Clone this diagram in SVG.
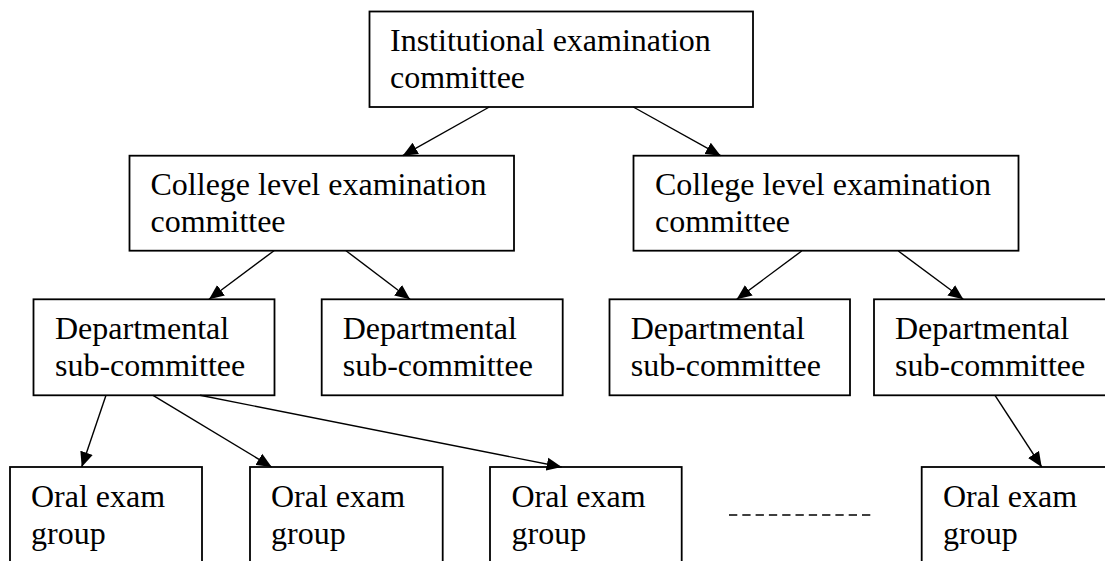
<svg xmlns="http://www.w3.org/2000/svg" width="1105" height="561" viewBox="0 0 1105 561">
<style>
.box{fill:#fff;stroke:#000;stroke-width:1.8}
.t{font-family:"Liberation Serif","Times New Roman",serif;font-size:32px;fill:#000}
.c{stroke:#000;stroke-width:1.4;fill:none;marker-end:url(#ah)}
</style>
<defs>
<marker id="ah" markerUnits="userSpaceOnUse" markerWidth="16" markerHeight="14" refX="15" refY="7" orient="auto">
<path d="M0,0.5 L15,7 L0,13.5 z" fill="#000"/>
</marker>
</defs>
<rect width="1105" height="561" fill="#fff"/>
<g id="n-institutional">
<rect class="box" x="369.5" y="11.5" width="383.5" height="95.5"/>
<text class="t" x="390" y="51">Institutional examination</text>
<text class="t" x="390" y="88">committee</text>
</g>
<g id="n-college-left">
<rect class="box" x="129.5" y="155.7" width="384.5" height="95"/>
<text class="t" x="150.5" y="194.5">College level examination</text>
<text class="t" x="150.5" y="231.5">committee</text>
</g>
<g id="n-college-right">
<rect class="box" x="633.5" y="155.7" width="385" height="95"/>
<text class="t" x="655" y="194.5">College level examination</text>
<text class="t" x="655" y="231.5">committee</text>
</g>
<g id="n-dept1">
<rect class="box" x="33.5" y="299.3" width="241" height="96"/>
<text class="t" x="55" y="339">Departmental</text>
<text class="t" x="55" y="376">sub-committee</text>
</g>
<g id="n-dept2">
<rect class="box" x="321.7" y="299.3" width="241" height="96"/>
<text class="t" x="342.7" y="339">Departmental</text>
<text class="t" x="342.7" y="376">sub-committee</text>
</g>
<g id="n-dept3">
<rect class="box" x="609.5" y="299.3" width="240.5" height="96"/>
<text class="t" x="630.7" y="339">Departmental</text>
<text class="t" x="630.7" y="376">sub-committee</text>
</g>
<g id="n-dept4">
<rect class="box" x="874" y="299.3" width="241" height="96"/>
<text class="t" x="895" y="339">Departmental</text>
<text class="t" x="895" y="376">sub-committee</text>
</g>
<g id="n-oral1">
<rect class="box" x="10" y="467" width="192" height="110"/>
<text class="t" x="31" y="506.5">Oral exam</text>
<text class="t" x="31" y="543.5">group</text>
</g>
<g id="n-oral2">
<rect class="box" x="250" y="467" width="192.7" height="110"/>
<text class="t" x="271" y="506.5">Oral exam</text>
<text class="t" x="271" y="543.5">group</text>
</g>
<g id="n-oral3">
<rect class="box" x="490" y="467" width="191.7" height="110"/>
<text class="t" x="511.5" y="506.5">Oral exam</text>
<text class="t" x="511.5" y="543.5">group</text>
</g>
<g id="n-oral4">
<rect class="box" x="921.7" y="467" width="192" height="110"/>
<text class="t" x="943" y="506.5">Oral exam</text>
<text class="t" x="943" y="543.5">group</text>
</g>
<g id="ellipsis">
<line x1="729" y1="515" x2="875" y2="515" stroke="#000" stroke-width="1.4" stroke-dasharray="8.3 5"/>
</g>
<g id="connectors">
<line class="c" x1="489.3" y1="107" x2="402.7" y2="155.7"/>
<line class="c" x1="633.3" y1="107" x2="720.7" y2="155.7"/>
<line class="c" x1="274" y1="250.7" x2="209" y2="299.3"/>
<line class="c" x1="346" y1="250.7" x2="410" y2="299.3"/>
<line class="c" x1="801.7" y1="251" x2="736.7" y2="299.3"/>
<line class="c" x1="898.3" y1="251" x2="963.3" y2="299.3"/>
<line class="c" x1="106" y1="395.3" x2="81.7" y2="467"/>
<line class="c" x1="153" y1="395.3" x2="271.7" y2="467"/>
<line class="c" x1="200" y1="395.3" x2="561.7" y2="467"/>
<line class="c" x1="995" y1="395.3" x2="1041.7" y2="467"/>
</g>
</svg>
